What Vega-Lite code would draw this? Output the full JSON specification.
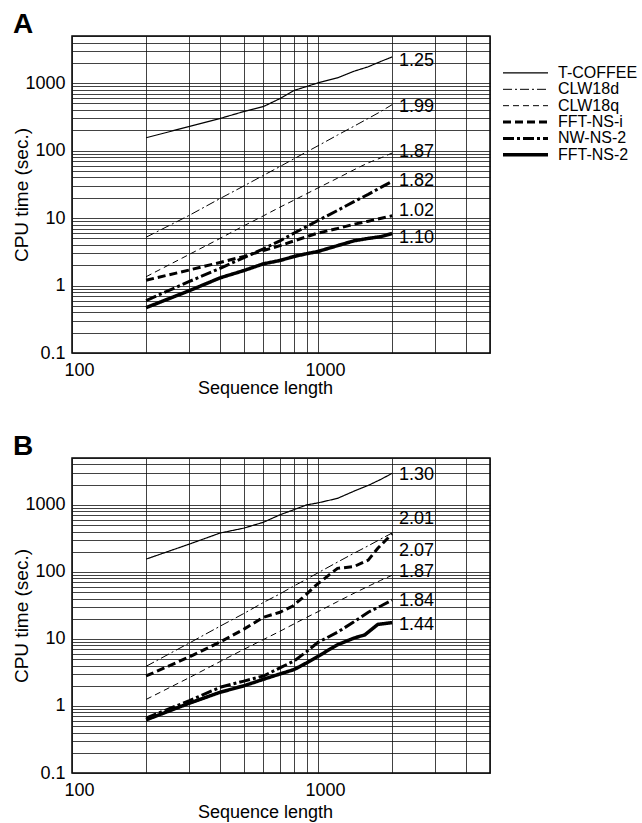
{
  "$schema": "https://vega.github.io/schema/vega-lite/v6.json",
  "padding": {"left": 12, "top": 10, "right": 0, "bottom": 0},
  "background": "white",
  "config": {
    "font": "Liberation Sans",
    "view": {"stroke": "black", "strokeWidth": 1.5},
    "title": {"color": "black"},
    "text": {"color": "black", "font": "Liberation Sans"}
  },
  "datasets": {
    "curves": [
      {"p":"A","s":"T-COFFEE","x":200,"y":155},{"p":"A","s":"T-COFFEE","x":300,"y":228},{"p":"A","s":"T-COFFEE","x":400,"y":300},{"p":"A","s":"T-COFFEE","x":500,"y":380},{"p":"A","s":"T-COFFEE","x":600,"y":450},{"p":"A","s":"T-COFFEE","x":700,"y":590},{"p":"A","s":"T-COFFEE","x":800,"y":780},{"p":"A","s":"T-COFFEE","x":1000,"y":1010},{"p":"A","s":"T-COFFEE","x":1200,"y":1200},{"p":"A","s":"T-COFFEE","x":1400,"y":1500},{"p":"A","s":"T-COFFEE","x":1600,"y":1750},{"p":"A","s":"T-COFFEE","x":1800,"y":2100},{"p":"A","s":"T-COFFEE","x":2000,"y":2450},
      {"p":"A","s":"CLW18d","x":200,"y":5.2},{"p":"A","s":"CLW18d","x":300,"y":11},{"p":"A","s":"CLW18d","x":400,"y":19.5},{"p":"A","s":"CLW18d","x":500,"y":30},{"p":"A","s":"CLW18d","x":600,"y":43},{"p":"A","s":"CLW18d","x":700,"y":58},{"p":"A","s":"CLW18d","x":800,"y":76},{"p":"A","s":"CLW18d","x":900,"y":96},{"p":"A","s":"CLW18d","x":1000,"y":118},{"p":"A","s":"CLW18d","x":1200,"y":170},{"p":"A","s":"CLW18d","x":1400,"y":230},{"p":"A","s":"CLW18d","x":1600,"y":300},{"p":"A","s":"CLW18d","x":1800,"y":380},{"p":"A","s":"CLW18d","x":2000,"y":480},
      {"p":"A","s":"CLW18q","x":200,"y":1.35},{"p":"A","s":"CLW18q","x":300,"y":2.9},{"p":"A","s":"CLW18q","x":400,"y":5.0},{"p":"A","s":"CLW18q","x":500,"y":7.7},{"p":"A","s":"CLW18q","x":600,"y":10.8},{"p":"A","s":"CLW18q","x":700,"y":14.5},{"p":"A","s":"CLW18q","x":800,"y":18.5},{"p":"A","s":"CLW18q","x":900,"y":23},{"p":"A","s":"CLW18q","x":1000,"y":28},{"p":"A","s":"CLW18q","x":1200,"y":39},{"p":"A","s":"CLW18q","x":1400,"y":52},{"p":"A","s":"CLW18q","x":1600,"y":66},{"p":"A","s":"CLW18q","x":1800,"y":78},{"p":"A","s":"CLW18q","x":2000,"y":92},
      {"p":"A","s":"FFT-NS-i","x":200,"y":1.2},{"p":"A","s":"FFT-NS-i","x":300,"y":1.7},{"p":"A","s":"FFT-NS-i","x":400,"y":2.2},{"p":"A","s":"FFT-NS-i","x":500,"y":2.7},{"p":"A","s":"FFT-NS-i","x":600,"y":3.3},{"p":"A","s":"FFT-NS-i","x":700,"y":3.9},{"p":"A","s":"FFT-NS-i","x":800,"y":4.6},{"p":"A","s":"FFT-NS-i","x":1000,"y":6.0},{"p":"A","s":"FFT-NS-i","x":1200,"y":7.0},{"p":"A","s":"FFT-NS-i","x":1400,"y":8.1},{"p":"A","s":"FFT-NS-i","x":1600,"y":9.0},{"p":"A","s":"FFT-NS-i","x":2000,"y":10.8},
      {"p":"A","s":"NW-NS-2","x":200,"y":0.6},{"p":"A","s":"NW-NS-2","x":300,"y":1.15},{"p":"A","s":"NW-NS-2","x":400,"y":1.8},{"p":"A","s":"NW-NS-2","x":500,"y":2.6},{"p":"A","s":"NW-NS-2","x":600,"y":3.5},{"p":"A","s":"NW-NS-2","x":700,"y":4.6},{"p":"A","s":"NW-NS-2","x":800,"y":6.0},{"p":"A","s":"NW-NS-2","x":900,"y":7.5},{"p":"A","s":"NW-NS-2","x":1000,"y":9.2},{"p":"A","s":"NW-NS-2","x":1200,"y":13},{"p":"A","s":"NW-NS-2","x":1400,"y":17.5},{"p":"A","s":"NW-NS-2","x":1600,"y":22.5},{"p":"A","s":"NW-NS-2","x":1800,"y":28.5},{"p":"A","s":"NW-NS-2","x":2000,"y":35},
      {"p":"A","s":"FFT-NS-2","x":200,"y":0.47},{"p":"A","s":"FFT-NS-2","x":300,"y":0.84},{"p":"A","s":"FFT-NS-2","x":400,"y":1.3},{"p":"A","s":"FFT-NS-2","x":500,"y":1.67},{"p":"A","s":"FFT-NS-2","x":600,"y":2.1},{"p":"A","s":"FFT-NS-2","x":700,"y":2.35},{"p":"A","s":"FFT-NS-2","x":800,"y":2.7},{"p":"A","s":"FFT-NS-2","x":900,"y":2.97},{"p":"A","s":"FFT-NS-2","x":1000,"y":3.2},{"p":"A","s":"FFT-NS-2","x":1200,"y":3.9},{"p":"A","s":"FFT-NS-2","x":1400,"y":4.6},{"p":"A","s":"FFT-NS-2","x":1600,"y":5.0},{"p":"A","s":"FFT-NS-2","x":1800,"y":5.3},{"p":"A","s":"FFT-NS-2","x":2000,"y":5.9},
      {"p":"B","s":"T-COFFEE","x":200,"y":155},{"p":"B","s":"T-COFFEE","x":300,"y":260},{"p":"B","s":"T-COFFEE","x":400,"y":380},{"p":"B","s":"T-COFFEE","x":500,"y":450},{"p":"B","s":"T-COFFEE","x":600,"y":550},{"p":"B","s":"T-COFFEE","x":700,"y":710},{"p":"B","s":"T-COFFEE","x":800,"y":850},{"p":"B","s":"T-COFFEE","x":900,"y":1000},{"p":"B","s":"T-COFFEE","x":1000,"y":1070},{"p":"B","s":"T-COFFEE","x":1200,"y":1250},{"p":"B","s":"T-COFFEE","x":1400,"y":1600},{"p":"B","s":"T-COFFEE","x":1600,"y":1950},{"p":"B","s":"T-COFFEE","x":1800,"y":2400},{"p":"B","s":"T-COFFEE","x":2000,"y":2950},
      {"p":"B","s":"CLW18d","x":200,"y":3.9},{"p":"B","s":"CLW18d","x":300,"y":8.7},{"p":"B","s":"CLW18d","x":400,"y":15.5},{"p":"B","s":"CLW18d","x":500,"y":24},{"p":"B","s":"CLW18d","x":600,"y":35},{"p":"B","s":"CLW18d","x":700,"y":47},{"p":"B","s":"CLW18d","x":800,"y":62},{"p":"B","s":"CLW18d","x":900,"y":78},{"p":"B","s":"CLW18d","x":1000,"y":97},{"p":"B","s":"CLW18d","x":1200,"y":140},{"p":"B","s":"CLW18d","x":1400,"y":190},{"p":"B","s":"CLW18d","x":1600,"y":245},{"p":"B","s":"CLW18d","x":1800,"y":310},{"p":"B","s":"CLW18d","x":2000,"y":380},
      {"p":"B","s":"CLW18q","x":200,"y":1.25},{"p":"B","s":"CLW18q","x":300,"y":2.65},{"p":"B","s":"CLW18q","x":400,"y":4.6},{"p":"B","s":"CLW18q","x":500,"y":7.0},{"p":"B","s":"CLW18q","x":600,"y":9.8},{"p":"B","s":"CLW18q","x":700,"y":13},{"p":"B","s":"CLW18q","x":800,"y":16.8},{"p":"B","s":"CLW18q","x":900,"y":21},{"p":"B","s":"CLW18q","x":1000,"y":25.5},{"p":"B","s":"CLW18q","x":1200,"y":36},{"p":"B","s":"CLW18q","x":1400,"y":48},{"p":"B","s":"CLW18q","x":1600,"y":61},{"p":"B","s":"CLW18q","x":1800,"y":75},{"p":"B","s":"CLW18q","x":2000,"y":89},
      {"p":"B","s":"FFT-NS-i","x":200,"y":2.8},{"p":"B","s":"FFT-NS-i","x":300,"y":5.4},{"p":"B","s":"FFT-NS-i","x":400,"y":9.0},{"p":"B","s":"FFT-NS-i","x":500,"y":14},{"p":"B","s":"FFT-NS-i","x":600,"y":21},{"p":"B","s":"FFT-NS-i","x":700,"y":25},{"p":"B","s":"FFT-NS-i","x":790,"y":31},{"p":"B","s":"FFT-NS-i","x":890,"y":45},{"p":"B","s":"FFT-NS-i","x":980,"y":63},{"p":"B","s":"FFT-NS-i","x":1200,"y":113},{"p":"B","s":"FFT-NS-i","x":1400,"y":120},{"p":"B","s":"FFT-NS-i","x":1600,"y":150},{"p":"B","s":"FFT-NS-i","x":1750,"y":225},{"p":"B","s":"FFT-NS-i","x":2000,"y":370},
      {"p":"B","s":"NW-NS-2","x":200,"y":0.66},{"p":"B","s":"NW-NS-2","x":300,"y":1.2},{"p":"B","s":"NW-NS-2","x":400,"y":1.9},{"p":"B","s":"NW-NS-2","x":500,"y":2.35},{"p":"B","s":"NW-NS-2","x":600,"y":2.8},{"p":"B","s":"NW-NS-2","x":700,"y":3.7},{"p":"B","s":"NW-NS-2","x":800,"y":4.7},{"p":"B","s":"NW-NS-2","x":900,"y":6.5},{"p":"B","s":"NW-NS-2","x":1000,"y":8.9},{"p":"B","s":"NW-NS-2","x":1200,"y":12.6},{"p":"B","s":"NW-NS-2","x":1400,"y":18},{"p":"B","s":"NW-NS-2","x":1600,"y":25},{"p":"B","s":"NW-NS-2","x":1800,"y":31},{"p":"B","s":"NW-NS-2","x":2000,"y":38},
      {"p":"B","s":"FFT-NS-2","x":200,"y":0.62},{"p":"B","s":"FFT-NS-2","x":300,"y":1.1},{"p":"B","s":"FFT-NS-2","x":400,"y":1.6},{"p":"B","s":"FFT-NS-2","x":500,"y":2.0},{"p":"B","s":"FFT-NS-2","x":600,"y":2.5},{"p":"B","s":"FFT-NS-2","x":700,"y":3.0},{"p":"B","s":"FFT-NS-2","x":800,"y":3.5},{"p":"B","s":"FFT-NS-2","x":900,"y":4.4},{"p":"B","s":"FFT-NS-2","x":1000,"y":5.5},{"p":"B","s":"FFT-NS-2","x":1200,"y":8.2},{"p":"B","s":"FFT-NS-2","x":1400,"y":10.3},{"p":"B","s":"FFT-NS-2","x":1550,"y":11.5},{"p":"B","s":"FFT-NS-2","x":1750,"y":16.5},{"p":"B","s":"FFT-NS-2","x":2000,"y":17.5}
    ],
    "labels": [
      {"p":"A","s":"T-COFFEE","x":2000,"y":2150,"t":"1.25"},
      {"p":"A","s":"CLW18d","x":2000,"y":449,"t":"1.99"},
      {"p":"A","s":"CLW18q","x":2000,"y":97,"t":"1.87"},
      {"p":"A","s":"NW-NS-2","x":2000,"y":36,"t":"1.82"},
      {"p":"A","s":"FFT-NS-i","x":2000,"y":12.9,"t":"1.02"},
      {"p":"A","s":"FFT-NS-2","x":2000,"y":5.1,"t":"1.10"},
      {"p":"B","s":"T-COFFEE","x":2000,"y":2825,"t":"1.30"},
      {"p":"B","s":"CLW18d","x":2000,"y":605,"t":"2.01"},
      {"p":"B","s":"FFT-NS-i","x":2000,"y":207,"t":"2.07"},
      {"p":"B","s":"CLW18q","x":2000,"y":98,"t":"1.87"},
      {"p":"B","s":"NW-NS-2","x":2000,"y":36.6,"t":"1.84"},
      {"p":"B","s":"FFT-NS-2","x":2000,"y":16.2,"t":"1.44"}
    ],
    "legend": [
      {"s":"T-COFFEE"},{"s":"CLW18d"},{"s":"CLW18q"},{"s":"FFT-NS-i"},{"s":"NW-NS-2"},{"s":"FFT-NS-2"}
    ]
  },
  "resolve": {"scale": {"x": "independent", "y": "independent"}},
  "spacing": 34,
  "vconcat": [
    {
      "resolve": {"scale": {"x": "independent", "y": "independent"}},
      "spacing": 3,
      "hconcat": [
        {
          "width": 418, "height": 317,
          "title": {"text": "A", "anchor": "start", "frame": "bounds", "fontSize": 28, "fontWeight": "bold", "offset": -12},
          "encoding": {
            "x": {"field": "x", "type": "quantitative",
              "scale": {"type": "log", "domain": [100, 5000], "nice": false},
              "axis": {"title": "Sequence length", "values": [100,200,300,400,500,600,700,800,900,1000,2000,3000,4000,5000],
                "labelExpr": "datum.value == 100 || datum.value == 1000 ? datum.label : ''", "format": "~g",
                "ticks": false, "domain": false, "grid": true, "gridColor": "#111", "gridWidth": 0.8, "gridOpacity": 1,
                "labelFontSize": 18, "labelColor": "black", "labelPadding": 8, "labelOffset": 7, "labelFlush": false, "labelOverlap": false,
                "titleFontSize": 18, "titleFontWeight": "normal", "titleColor": "black", "titlePadding": 0, "titleX": 193}},
            "y": {"field": "y", "type": "quantitative",
              "scale": {"type": "log", "domain": [0.1, 5000], "nice": false},
              "axis": {"title": "CPU time (sec.)", "values": [0.1,0.2,0.3,0.4,0.5,0.6,0.7,0.8,0.9,1,2,3,4,5,6,7,8,9,10,20,30,40,50,60,70,80,90,100,200,300,400,500,600,700,800,900,1000,2000,3000,4000,5000],
                "labelExpr": "datum.value == 0.1 || datum.value == 1 || datum.value == 10 || datum.value == 100 || datum.value == 1000 ? datum.label : ''", "format": "~g",
                "ticks": false, "domain": false, "grid": true, "gridColor": "#111", "gridWidth": 0.8, "gridOpacity": 1,
                "labelFontSize": 18, "labelColor": "black", "labelPadding": 7, "labelFlush": false, "labelOverlap": false,
                "titleFontSize": 19, "titleFontWeight": "normal", "titleColor": "black", "titlePadding": -7}}
          },
          "layer": [
            {
              "data": {"name": "curves"},
              "transform": [{"filter": "datum.p == 'A'"}],
              "mark": {"type": "line", "color": "black", "strokeCap": "butt"},
              "encoding": {
                "order": {"field": "x", "type": "quantitative"},
                "strokeDash": {"field": "s", "type": "nominal", "legend": null,
                  "scale": {"domain": ["T-COFFEE","CLW18d","CLW18q","FFT-NS-i","NW-NS-2","FFT-NS-2"], "range": [[1,0],[9,3,2,3],[6,4],[8,4],[11,3,3,3],[1,0]]}},
                "strokeWidth": {"field": "s", "type": "nominal", "legend": null,
                  "scale": {"type": "ordinal", "domain": ["T-COFFEE","CLW18d","CLW18q","FFT-NS-i","NW-NS-2","FFT-NS-2"], "range": [1.2,1,1,3,3,3.5]}}
              }
            },
            {
              "data": {"name": "labels"},
              "transform": [{"filter": "datum.p == 'A'"}],
              "mark": {"type": "text", "align": "left", "baseline": "middle", "dx": 7, "fontSize": 18, "color": "black"},
              "encoding": {"text": {"field": "t", "type": "nominal"}}
            }
          ]
        },
        {
          "width": 45, "height": 123,
          "view": {"stroke": null},
          "data": {"name": "legend"},
          "encoding": {
            "y": {"field": "s", "type": "nominal",
              "scale": {"type": "point", "padding": 0.26, "domain": ["_pad1","_pad2","T-COFFEE","CLW18d","CLW18q","FFT-NS-i","NW-NS-2","FFT-NS-2"]}, "axis": null}
          },
          "layer": [
            {
              "mark": {"type": "rule", "color": "black", "strokeCap": "butt"},
              "encoding": {
                "x": {"datum": 0, "type": "quantitative", "scale": {"domain": [0, 1]}, "axis": null},
                "x2": {"datum": 1},
                "strokeDash": {"field": "s", "type": "nominal", "legend": null,
                  "scale": {"domain": ["T-COFFEE","CLW18d","CLW18q","FFT-NS-i","NW-NS-2","FFT-NS-2"], "range": [[1,0],[10,3,2,3],[6,4],[9,4],[12,3,3,3],[1,0]]}},
                "strokeWidth": {"field": "s", "type": "nominal", "legend": null,
                  "scale": {"type": "ordinal", "domain": ["T-COFFEE","CLW18d","CLW18q","FFT-NS-i","NW-NS-2","FFT-NS-2"], "range": [1.2,1,1,3,3,3.5]}}
              }
            },
            {
              "mark": {"type": "text", "align": "left", "baseline": "middle", "dx": 10, "fontSize": 16, "color": "black"},
              "encoding": {
                "x": {"datum": 1, "type": "quantitative"},
                "text": {"field": "s", "type": "nominal"}
              }
            }
          ]
        }
      ]
    },
    {
      "width": 418, "height": 315,
      "title": {"text": "B", "anchor": "start", "frame": "bounds", "fontSize": 28, "fontWeight": "bold", "offset": -12},
      "encoding": {
        "x": {"field": "x", "type": "quantitative",
          "scale": {"type": "log", "domain": [100, 5000], "nice": false},
          "axis": {"title": "Sequence length", "values": [100,200,300,400,500,600,700,800,900,1000,2000,3000,4000,5000],
            "labelExpr": "datum.value == 100 || datum.value == 1000 ? datum.label : ''", "format": "~g",
            "ticks": false, "domain": false, "grid": true, "gridColor": "#111", "gridWidth": 0.8, "gridOpacity": 1,
            "labelFontSize": 18, "labelColor": "black", "labelPadding": 8, "labelOffset": 7, "labelFlush": false, "labelOverlap": false,
            "titleFontSize": 18, "titleFontWeight": "normal", "titleColor": "black", "titlePadding": 4, "titleX": 193}},
        "y": {"field": "y", "type": "quantitative",
          "scale": {"type": "log", "domain": [0.1, 5000], "nice": false},
          "axis": {"title": "CPU time (sec.)", "values": [0.1,0.2,0.3,0.4,0.5,0.6,0.7,0.8,0.9,1,2,3,4,5,6,7,8,9,10,20,30,40,50,60,70,80,90,100,200,300,400,500,600,700,800,900,1000,2000,3000,4000,5000],
            "labelExpr": "datum.value == 0.1 || datum.value == 1 || datum.value == 10 || datum.value == 100 || datum.value == 1000 ? datum.label : ''", "format": "~g",
            "ticks": false, "domain": false, "grid": true, "gridColor": "#111", "gridWidth": 0.8, "gridOpacity": 1,
            "labelFontSize": 18, "labelColor": "black", "labelPadding": 7, "labelFlush": false, "labelOverlap": false,
            "titleFontSize": 19, "titleFontWeight": "normal", "titleColor": "black", "titlePadding": -7}}
      },
      "layer": [
        {
          "data": {"name": "curves"},
          "transform": [{"filter": "datum.p == 'B'"}],
          "mark": {"type": "line", "color": "black", "strokeCap": "butt"},
          "encoding": {
            "order": {"field": "x", "type": "quantitative"},
            "strokeDash": {"field": "s", "type": "nominal", "legend": null,
              "scale": {"domain": ["T-COFFEE","CLW18d","CLW18q","FFT-NS-i","NW-NS-2","FFT-NS-2"], "range": [[1,0],[9,3,2,3],[6,4],[8,4],[11,3,3,3],[1,0]]}},
            "strokeWidth": {"field": "s", "type": "nominal", "legend": null,
              "scale": {"type": "ordinal", "domain": ["T-COFFEE","CLW18d","CLW18q","FFT-NS-i","NW-NS-2","FFT-NS-2"], "range": [1.2,1,1,3,3,3.5]}}
          }
        },
        {
          "data": {"name": "labels"},
          "transform": [{"filter": "datum.p == 'B'"}],
          "mark": {"type": "text", "align": "left", "baseline": "middle", "dx": 7, "fontSize": 18, "color": "black"},
          "encoding": {"text": {"field": "t", "type": "nominal"}}
        }
      ]
    }
  ]
}
